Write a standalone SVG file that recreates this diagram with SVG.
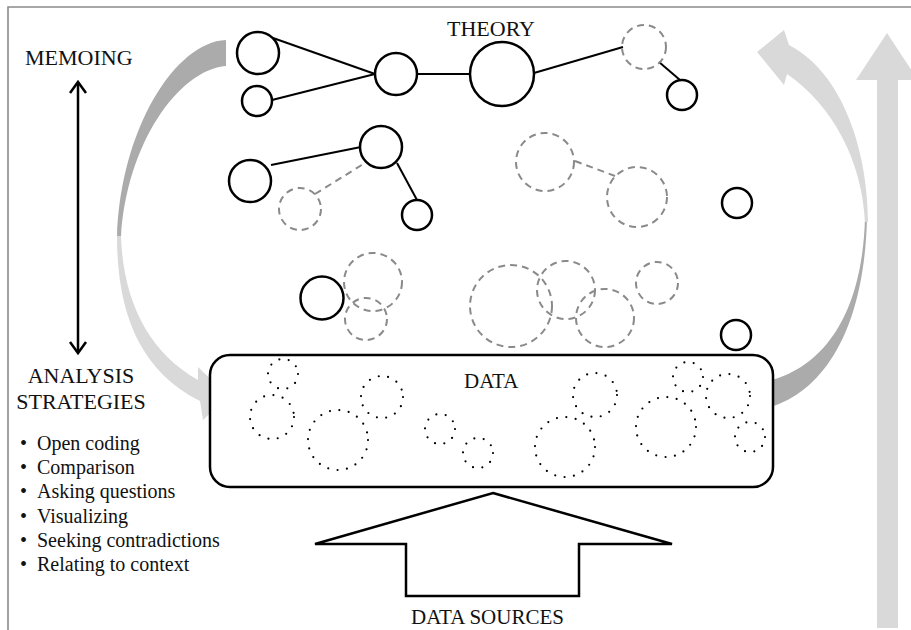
<svg xmlns="http://www.w3.org/2000/svg" width="911" height="630" viewBox="0 0 911 630">
  <style>
    .lbl { font-family: "Liberation Serif", "Times New Roman", serif; fill: #111; }
    .solid { fill: #fff; stroke: #000; stroke-width: 2.5; }
    .dashed { fill: none; stroke: #8a8a8a; stroke-width: 2; stroke-dasharray: 7 5; }
    .dotted { fill: none; stroke: #000; stroke-width: 2.2; stroke-dasharray: 0 9.5; stroke-linecap: round; }
    .link { stroke: #000; stroke-width: 2; fill: none; }
    .link-dash { stroke: #8a8a8a; stroke-width: 2; stroke-dasharray: 7 5; fill: none; }
    .dark-band { fill: #ababab; }
    .light-band { fill: #d9d9d9; }
  </style>

  <rect width="911" height="630" fill="#fff"/>

  <!-- frame edges -->
  <path d="M8,630 L8,7 L911,7" fill="none" stroke="#8a8a8a" stroke-width="1.6"/>

  <!-- left cycle arrow: theory down to data -->
  <g id="arrow-left">
    <path class="dark-band" d="M226,40 L226,66 C178,70 126,145 121,238 L117,238 C120,130 175,42 226,40 Z"/>
    <path class="light-band" d="M117,236 L121,236 C123,300 148,352 198,380 L198,367 L228,396 L203,420 L200,401 C138,370 117,310 117,236 Z"/>
  </g>

  <!-- right cycle arrow: data up to theory -->
  <g id="arrow-right">
    <path class="dark-band" d="M757,383 L757,410 C812,402 864,345 867,218 L865,218 C862,325 815,375 757,383 Z"/>
    <path class="light-band" d="M865,222 L868,222 C868,150 842,72 789,45 L784,30 L757,52 L784,85 L787,74 C832,105 862,160 865,222 Z"/>
  </g>

  <!-- straight arrow on the right edge -->
  <g id="arrow-up">
    <path class="light-band" d="M877,628 L877,80 L856,80 L887,33 L918,80 L898,80 L898,628 Z"/>
  </g>

  <!-- memoing / analysis double arrow -->
  <g id="arrow-memo">
    <line x1="78" y1="84" x2="78" y2="351" stroke="#000" stroke-width="2.5"/>
    <polyline points="70,93 78,82 86,93" fill="none" stroke="#000" stroke-width="2.5"/>
    <polyline points="70,342 78,353 86,342" fill="none" stroke="#000" stroke-width="2.5"/>
  </g>

  <!-- data sources block arrow -->
  <g id="data-sources">
    <path d="M493,493 L672,544 L579,544 L579,596 L406,596 L406,544 L315,544 Z" fill="#fff" stroke="#000" stroke-width="2.5" stroke-linejoin="miter"/>
    <text class="lbl" x="411" y="624" font-size="21">DATA SOURCES</text>
  </g>

  <!-- data box -->
  <g id="data">
    <rect x="210" y="355" width="563" height="132" rx="20" fill="#fff" stroke="#000" stroke-width="2.5"/>
    <text class="lbl" x="464" y="388" font-size="21">DATA</text>
    <circle class="dotted" cx="283" cy="374" r="15"/>
    <circle class="dotted" cx="272" cy="417" r="22"/>
    <circle class="dotted" cx="338" cy="440" r="30"/>
    <circle class="dotted" cx="382" cy="397" r="21"/>
    <circle class="dotted" cx="440" cy="429" r="15"/>
    <circle class="dotted" cx="478" cy="453" r="15"/>
    <circle class="dotted" cx="595" cy="395" r="22"/>
    <circle class="dotted" cx="565" cy="447" r="30"/>
    <circle class="dotted" cx="666" cy="427" r="30"/>
    <circle class="dotted" cx="688" cy="377" r="15"/>
    <circle class="dotted" cx="728" cy="396" r="22"/>
    <circle class="dotted" cx="750" cy="437" r="15"/>
  </g>

  <!-- connectors between concepts -->
  <g id="connectors">
    <line class="link" x1="273" y1="38" x2="375" y2="74"/>
    <line class="link" x1="272" y1="100" x2="375" y2="74"/>
    <line class="link" x1="417" y1="74" x2="470" y2="74"/>
    <line class="link" x1="534" y1="73" x2="623" y2="47"/>
    <line class="link" x1="659" y1="62" x2="680" y2="80"/>
    <line class="link" x1="271" y1="165" x2="361" y2="147"/>
    <line class="link" x1="397" y1="163" x2="417" y2="200"/>
    <line class="link-dash" x1="315" y1="194" x2="365" y2="163"/>
    <line class="link-dash" x1="575" y1="161" x2="615" y2="176"/>
  </g>

  <!-- concepts: theory level -->
  <g id="c1"><circle class="solid" cx="258" cy="53" r="21"/></g>
  <g id="c2"><circle class="solid" cx="257" cy="101" r="15"/></g>
  <g id="c3"><circle class="solid" cx="396" cy="74" r="21"/></g>
  <g id="c4"><circle class="solid" cx="502" cy="74" r="32"/></g>
  <g id="d1"><circle class="dashed" cx="644" cy="47" r="22"/></g>
  <g id="c5"><circle class="solid" cx="682" cy="95" r="15"/></g>

  <!-- concepts: middle level -->
  <g id="c6"><circle class="solid" cx="250" cy="181" r="21"/></g>
  <g id="c7"><circle class="solid" cx="381" cy="147" r="21"/></g>
  <g id="d2"><circle class="dashed" cx="300" cy="209" r="21"/></g>
  <g id="c8"><circle class="solid" cx="417" cy="215" r="15"/></g>
  <g id="d3"><circle class="dashed" cx="545" cy="162" r="29"/></g>
  <g id="d4"><circle class="dashed" cx="637" cy="197" r="30"/></g>
  <g id="c9"><circle class="solid" cx="737" cy="203" r="15"/></g>

  <!-- concepts: lower level -->
  <g id="c10"><circle class="solid" cx="322" cy="298" r="21.5"/></g>
  <g id="d5"><circle class="dashed" cx="373" cy="282" r="29"/></g>
  <g id="d6"><circle class="dashed" cx="366" cy="319" r="21"/></g>
  <g id="d7"><circle class="dashed" cx="511" cy="306" r="41"/></g>
  <g id="d8"><circle class="dashed" cx="566" cy="290" r="29"/></g>
  <g id="d9"><circle class="dashed" cx="605" cy="318" r="29"/></g>
  <g id="d10"><circle class="dashed" cx="657" cy="283" r="21"/></g>
  <g id="c11"><circle class="solid" cx="736" cy="335" r="15"/></g>

  <!-- labels -->
  <g id="label-theory"><text class="lbl" x="447" y="36" font-size="22">THEORY</text></g>
  <g id="label-memoing"><text class="lbl" x="25" y="65" font-size="22">MEMOING</text></g>
  <g id="label-analysis">
    <text class="lbl" x="81" y="383" font-size="22" text-anchor="middle">ANALYSIS</text>
    <text class="lbl" x="81" y="409" font-size="22" text-anchor="middle">STRATEGIES</text>
  </g>
  <g id="strategies" class="lbl" font-size="20">
    <text class="lbl" x="20" y="450">•<tspan x="37">Open coding</tspan></text>
    <text class="lbl" x="20" y="474.2">•<tspan x="37">Comparison</tspan></text>
    <text class="lbl" x="20" y="498.4">•<tspan x="37">Asking questions</tspan></text>
    <text class="lbl" x="20" y="522.6">•<tspan x="37">Visualizing</tspan></text>
    <text class="lbl" x="20" y="546.8">•<tspan x="37">Seeking contradictions</tspan></text>
    <text class="lbl" x="20" y="571">•<tspan x="37">Relating to context</tspan></text>
  </g>
</svg>
